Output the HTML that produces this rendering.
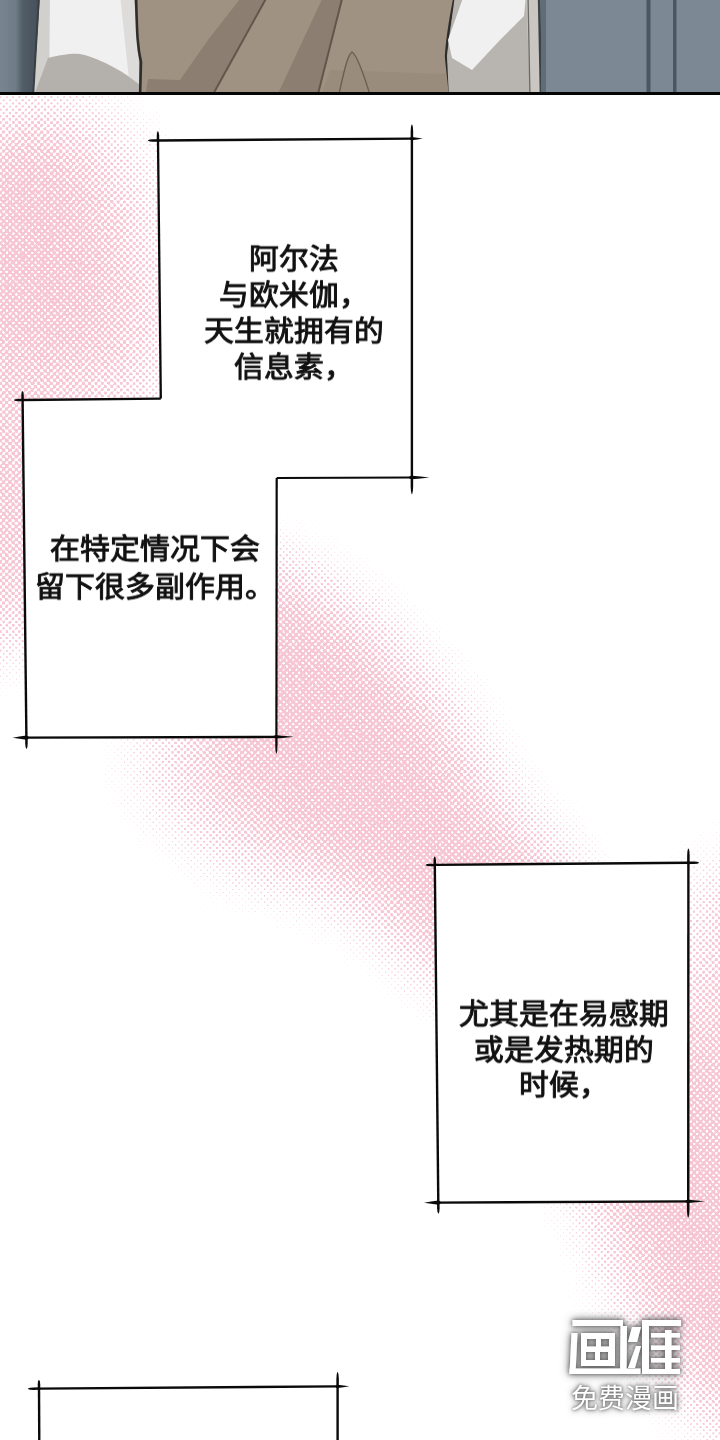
<!DOCTYPE html>
<html lang="zh-CN"><head><meta charset="utf-8">
<style>
html,body{margin:0;padding:0;background:#fff;}
body{width:720px;height:1440px;position:relative;overflow:hidden;font-family:"Liberation Sans",sans-serif;}
svg{position:absolute;left:0;top:0;}
.t{position:absolute;font-size:29.75px;font-weight:400;color:#111;white-space:nowrap;text-align:center;line-height:36px;-webkit-text-stroke:1.0px #111;}
.t span{display:block;transform:scaleY(0.95);will-change:transform;}
.wm{position:absolute;color:#fff;font-weight:500;white-space:nowrap;}
.ht{position:absolute;left:0;top:95px;width:720px;height:1345px;isolation:isolate;overflow:hidden;}
.ht .thr{position:absolute;left:0;top:-95px;width:720px;height:1440px;filter:contrast(12);background:#fff;isolation:isolate;overflow:hidden;}
.ht .dots{position:absolute;left:-400px;top:-400px;width:1520px;height:2240px;transform:rotate(45deg);background-image:radial-gradient(circle at center,#8c8c8c 0px,#949494 0.65px,#a4a4a4 1.3px,#b4b4b4 1.8px,#fff 2.4px);background-size:4.5px 4.5px;mix-blend-mode:multiply;}
.ht .col{position:absolute;left:0;top:0;width:720px;height:1345px;background:#f6c6d5;mix-blend-mode:screen;}
</style></head><body>
<svg width="720" height="1440" viewBox="0 0 720 1440">
<defs>
<filter id="b40" x="-50%" y="-50%" width="200%" height="200%"><feGaussianBlur stdDeviation="40"/></filter>
<filter id="b25" x="-50%" y="-50%" width="200%" height="200%"><feGaussianBlur stdDeviation="25"/></filter>
<filter id="b1"><feGaussianBlur stdDeviation="1.2"/></filter>
</defs>
<!-- top image -->
<defs>
<linearGradient id="lg1" x1="0" x2="1" y1="0" y2="0"><stop offset="0" stop-color="#7a8893"/><stop offset="0.45" stop-color="#6f7c87"/><stop offset="0.6" stop-color="#525d67"/><stop offset="1" stop-color="#444e58"/></linearGradient>
<filter id="soft" x="-5%" y="-5%" width="110%" height="110%"><feGaussianBlur stdDeviation="0.7"/></filter>
<clipPath id="cpt"><rect x="0" y="0" width="720" height="93"/></clipPath>
</defs>
<g filter="url(#soft)" clip-path="url(#cpt)">
<rect x="-5" y="-5" width="730" height="100" fill="#7b8893"/>
<polygon points="-5,-5 41,-5 34,98 -5,98" fill="url(#lg1)"/>
<polygon points="41,-5 138,-5 141,98 33,98" fill="#f0f0f0"/>
<polygon points="40,-5 50,-5 49,98 33,98" fill="#d2d0cd"/>
<polygon points="120,-5 137,-5 141,98 131,98" fill="#dddcda"/>
<path d="M48,58 C60,55 72,53 80,54 C95,57 108,64 122,72 C130,77 136,82 141,86 L141,98 L33,98 Z" fill="#b4b0ac"/>
<path d="M39,-5 L33,98" stroke="#3a3f44" stroke-width="2" fill="none"/>
<polygon points="134,-5 455,-5 447,40 446,56 450,98 139,98 139,62" fill="#a09282"/>
<polygon points="330,70 450,74 450,98 320,98" fill="#9a8c7c"/>
<path d="M136,-5 C137,30 137,45 141,62 L140,98" stroke="#2e2e2c" stroke-width="2.6" fill="none"/>
<polygon points="243,-5 268,-5 211,98 145,98 148,79 180,80 208,40" fill="#8c7e70"/>
<polygon points="324,-5 343,-5 317,98 276,98" fill="#8c7e70"/>
<path d="M268,-5 L211,98" stroke="#62564c" stroke-width="2" fill="none"/>
<path d="M343,-5 L317,98" stroke="#62564c" stroke-width="2" fill="none"/>
<path d="M338,98 C344,72 347,56 352,52 C357,55 364,75 371,98" stroke="#6a5e53" stroke-width="1.4" fill="#9a8c7c"/>
<path d="M455,-5 C450,20 447,40 446,56 C447,70 449,80 450,98" stroke="#2f2d2b" stroke-width="2.4" fill="none"/>
<polygon points="455,-5 528,-5 530,98 449,98 447,56" fill="#b8b4b0"/>
<polygon points="464,-5 526,-5 524,16 500,40 472,70 452,58 448,40" fill="#f0f0f0"/>
<polygon points="526,-5 540,-5 541,98 530,98" fill="#cac7c3"/>
<path d="M528,-5 L530,98" stroke="#6d6a67" stroke-width="1.3" fill="none"/>
<path d="M539,-5 L541,98" stroke="#3d4349" stroke-width="2.5" fill="none"/>
<rect x="541" y="-5" width="5" height="103" fill="#606c76"/>
<rect x="646.5" y="-5" width="4" height="103" fill="#4c5660"/>
<rect x="673" y="-5" width="3.5" height="103" fill="#4c5660"/>
</g>
<rect x="0" y="92" width="720" height="3" fill="#050505"/>
</svg>
<div class="ht"><div class="thr">
<svg width="720" height="1440" viewBox="0 0 720 1440"><defs><filter id="bht" x="-50%" y="-50%" width="200%" height="200%" color-interpolation-filters="sRGB"><feGaussianBlur stdDeviation="40"/><feComponentTransfer result="bl"><feFuncA type="gamma" exponent="0.44" amplitude="0.42" offset="0"/></feComponentTransfer><feTurbulence type="fractalNoise" baseFrequency="0.45" numOctaves="2" seed="3"/><feColorMatrix values="0 0 0 0 0  0 0 0 0 0  0 0 0 0 0  0 0 0 1 0" result="nz"/><feComposite in="bl" in2="nz" operator="arithmetic" k1="0.7" k2="0.65" k3="0" k4="0"/></filter></defs>
<g fill="#000"><g filter="url(#bht)"><ellipse cx="45" cy="290" rx="135" ry="190" opacity="0.4"/>
<ellipse cx="25" cy="250" rx="80" ry="125"/>
<ellipse cx="0" cy="520" rx="45" ry="130"/>
<ellipse cx="110" cy="330" rx="45" ry="70" opacity="0.5"/>
<ellipse cx="340" cy="745" rx="220" ry="95" transform="rotate(50 340 745)"/>
<ellipse cx="470" cy="890" rx="150" ry="75" transform="rotate(42 470 890)"/>
<ellipse cx="640" cy="1120" rx="220" ry="70" transform="rotate(55 640 1120)"/>
<ellipse cx="712" cy="1285" rx="170" ry="70" transform="rotate(62 712 1285)"/>
<ellipse cx="735" cy="1060" rx="45" ry="200" opacity="0.8"/>
<ellipse cx="230" cy="805" rx="110" ry="40" transform="rotate(38 230 805)" opacity="0.6"/></g></g></svg>
<div class="dots"></div></div><div class="col"></div></div>
<svg width="720" height="1440" viewBox="0 0 720 1440">

<polygon fill="#fff" points="158.0,140.5 411.9,138.6 411.9,477.5 276.7,478.0 276.4,736.9 26.4,737.6 22.6,400.0 160.8,398.6"/>
<polygon fill="#fff" points="434.8,864.9 688.4,862.8 688.2,1201.4 438.3,1202.6"/>
<polygon fill="#fff" points="39.0,1388.6 337.6,1386.4 337.6,1445 39.3,1445"/>

<g fill="#0a0a0a">
<polygon points="158.01,141.70 411.91,139.80 411.89,137.40 157.99,139.30"/>
<polygon points="159.03,141.69 158.01,141.76 152.91,141.80 149.85,141.52 148.52,141.05 147.80,140.58 148.51,140.09 149.83,139.60 152.89,139.28 157.99,139.24 159.01,139.29"/>
<polygon points="410.27,139.81 411.91,140.16 417.36,139.42 422.80,138.52 417.34,137.70 411.89,137.04 410.26,137.41"/>
<polygon points="410.70,138.60 410.70,477.50 413.10,477.50 413.10,138.60"/>
<polygon points="410.70,140.04 410.64,138.60 410.64,131.40 410.94,127.08 411.42,125.21 411.90,124.20 412.38,125.21 412.86,127.08 413.16,131.40 413.16,138.60 413.10,140.04"/>
<polygon points="410.70,475.81 410.64,477.50 410.64,485.95 410.94,491.02 411.42,493.22 411.90,494.40 412.38,493.22 412.86,491.02 413.16,485.95 413.16,477.50 413.10,475.81"/>
<polygon points="411.90,476.40 276.70,476.90 276.70,479.10 411.90,478.60"/>
<polygon points="409.27,476.41 411.89,475.74 420.65,476.50 429.40,477.44 420.65,478.44 411.91,479.26 409.28,478.61"/>
<polygon points="275.60,478.00 275.30,736.90 277.50,736.90 277.80,478.00"/>
<polygon points="275.30,735.20 275.25,736.90 275.24,745.40 275.50,750.50 275.94,752.71 276.38,753.90 276.82,752.71 277.26,750.50 277.55,745.40 277.55,736.90 277.50,735.20"/>
<polygon points="276.40,735.70 26.40,736.40 26.40,738.80 276.40,738.10"/>
<polygon points="273.73,735.71 276.40,735.22 285.30,735.95 294.20,736.85 285.30,737.80 276.40,738.58 273.73,738.11"/>
<polygon points="28.48,736.39 26.39,735.56 19.45,736.50 12.50,737.64 19.45,738.74 26.41,739.64 28.49,738.79"/>
<polygon points="27.60,737.59 23.80,399.99 21.40,400.01 25.20,737.61"/>
<polygon points="27.59,736.45 27.66,737.59 27.72,743.29 27.46,746.71 27.00,748.20 26.53,749.00 26.04,748.21 25.54,746.73 25.20,743.31 25.14,737.61 25.19,736.47"/>
<polygon points="23.81,400.89 23.86,399.99 23.81,395.49 23.48,392.79 22.99,391.63 22.50,391.00 22.03,391.64 21.56,392.81 21.29,395.51 21.34,400.01 21.41,400.91"/>
<polygon points="22.61,401.15 160.81,399.75 160.79,397.45 22.59,398.85"/>
<polygon points="23.48,401.14 22.61,401.21 18.26,401.25 15.65,400.99 14.51,400.54 13.90,400.09 14.50,399.62 15.63,399.15 18.24,398.84 22.59,398.79 23.46,398.84"/>
<polygon points="161.95,398.59 159.15,140.49 156.85,140.51 159.65,398.61"/>
<polygon points="159.16,141.44 159.21,140.49 159.16,135.74 158.84,132.89 158.36,131.66 157.90,131.00 157.44,131.67 157.00,132.91 156.74,135.76 156.79,140.51 156.86,141.46"/>
<polygon points="434.81,866.10 688.41,864.00 688.39,861.60 434.79,863.70"/>
<polygon points="435.75,866.09 434.81,866.16 430.11,866.20 427.29,865.92 426.06,865.45 425.40,864.98 426.05,864.49 427.27,864.00 430.09,863.68 434.79,863.64 435.73,863.69"/>
<polygon points="687.33,864.01 688.41,864.06 693.81,864.02 697.05,863.69 698.45,863.20 699.20,862.71 698.44,862.24 697.03,861.77 693.79,861.50 688.39,861.54 687.31,861.61"/>
<polygon points="687.20,862.80 687.00,1201.40 689.40,1201.40 689.60,862.80"/>
<polygon points="687.20,864.25 687.14,862.80 687.14,855.55 687.45,851.20 687.93,849.31 688.41,848.30 688.89,849.32 689.37,851.20 689.66,855.55 689.66,862.80 689.60,864.25"/>
<polygon points="687.00,1199.76 686.94,1201.40 686.94,1209.60 687.23,1214.52 687.71,1216.65 688.19,1217.80 688.67,1216.65 689.15,1214.52 689.46,1209.60 689.46,1201.40 689.40,1199.76"/>
<polygon points="688.19,1200.20 438.29,1201.40 438.31,1203.80 688.21,1202.60"/>
<polygon points="685.67,1200.21 688.19,1199.84 696.60,1200.50 705.00,1201.32 696.60,1202.22 688.21,1202.96 685.69,1202.61"/>
<polygon points="440.44,1201.39 438.29,1200.56 431.14,1201.51 424.00,1202.67 431.16,1203.76 438.31,1204.64 440.45,1203.79"/>
<polygon points="439.50,1202.59 436.00,864.89 433.60,864.91 437.10,1202.61"/>
<polygon points="439.49,1201.48 439.56,1202.59 439.62,1208.14 439.35,1211.47 438.89,1212.92 438.42,1213.70 437.93,1212.93 437.43,1211.49 437.10,1208.16 437.04,1202.61 437.09,1201.50"/>
<polygon points="436.01,865.75 436.06,864.89 436.02,860.59 435.69,858.01 435.20,856.90 434.71,856.30 434.24,856.91 433.77,858.03 433.50,860.61 433.54,864.91 433.61,865.77"/>
<polygon points="39.01,1389.80 337.61,1387.60 337.59,1385.20 38.99,1387.40"/>
<polygon points="40.13,1389.79 39.01,1389.86 33.41,1389.90 30.05,1389.63 28.59,1389.16 27.80,1388.68 28.58,1388.20 30.03,1387.71 33.39,1387.38 38.99,1387.34 40.11,1387.39"/>
<polygon points="335.84,1387.61 337.61,1387.96 343.51,1387.21 349.40,1386.31 343.49,1385.50 337.59,1384.84 335.82,1385.21"/>
<polygon points="336.40,1386.40 336.40,1445.00 338.80,1445.00 338.80,1386.40"/>
<polygon points="336.40,1387.86 336.34,1386.40 336.34,1379.10 336.64,1374.72 337.12,1372.82 337.60,1371.80 338.08,1372.82 338.56,1374.72 338.86,1379.10 338.86,1386.40 338.80,1387.86"/>
<polygon points="40.50,1444.99 40.20,1388.59 37.80,1388.61 38.10,1445.01"/>
<polygon points="40.20,1389.47 40.26,1388.59 40.24,1384.19 39.92,1381.55 39.44,1380.41 38.95,1379.80 38.48,1380.42 38.00,1381.57 37.72,1384.21 37.74,1388.61 37.80,1389.49"/>
</g>
</svg>
<div class="t" style="left:194px;top:241px;width:200px;"><span>阿尔法</span><span>与欧米伽，</span><span>天生就拥有的</span><span>信息素，</span></div>
<div class="t" style="left:34.8px;top:530px;width:240px;line-height:37.5px;font-size:29.9px;"><span>在特定情况下会</span><span>留下很多副作用。</span></div>
<div class="t" style="left:444px;top:996px;width:240px;line-height:35.5px;"><span>尤其是在易感期</span><span>或是发热期的</span><span>时候，</span></div>
<svg width="720" height="1440" viewBox="0 0 720 1440" style="position:absolute;left:0;top:0">
<defs><filter id="wsh" x="-30%" y="-30%" width="160%" height="160%">
<feGaussianBlur in="SourceAlpha" stdDeviation="3"/><feOffset dx="0" dy="1"/>
<feComponentTransfer><feFuncA type="linear" slope="0.55"/></feComponentTransfer>
<feFlood flood-color="#5a5a5a"/><feComposite operator="in" in2="SourceAlpha"/>
</filter>
<filter id="ws2" x="-30%" y="-30%" width="160%" height="160%">
<feGaussianBlur in="SourceAlpha" stdDeviation="2" result="b"/>
<feFlood flood-color="#5a5a5a" flood-opacity="1"/><feComposite in2="b" operator="in" result="s"/>
<feGaussianBlur in="SourceAlpha" stdDeviation="5" result="b2"/>
<feFlood flood-color="#606060" flood-opacity="1"/><feComposite in2="b2" operator="in" result="s2"/>
<feMerge><feMergeNode in="s2"/><feMergeNode in="s"/><feMergeNode in="SourceGraphic"/></feMerge>
</filter></defs>
<g filter="url(#ws2)" fill="#fff">
<polygon points="572.5,1320 623,1320 623,1326 572.5,1326"/>
<polygon points="571.5,1333 577.5,1333 575.5,1374 569.5,1374"/>
<rect x="569.5" y="1368.5" width="71" height="5.5"/>
<polygon points="620.5,1326 627,1326 626.5,1374 620,1374"/>
<path d="M581,1333 H615 V1366 H581 Z M587,1339 V1346.5 H596 V1339 Z M601,1339 V1346.5 H609 V1339 Z M586,1352 V1360 H595 V1352 Z M600,1352 V1360 H608 V1352 Z" fill-rule="evenodd"/>
<polygon points="632,1327 641,1327 637,1342 628,1342"/>
<polygon points="636,1346 641,1346 635,1368 628,1368"/>
<rect x="642" y="1320" width="39" height="6"/>
<rect x="642" y="1320" width="7" height="54"/>
<rect x="651" y="1333" width="29" height="4.5"/>
<rect x="651" y="1345.5" width="29" height="4.5"/>
<rect x="651" y="1358" width="29" height="4.5"/>
<rect x="649" y="1369" width="31" height="5"/>
<rect x="665" y="1330" width="6.5" height="40"/>
</g>
</svg>
<div class="wm" style="left:571px;top:1384px;font-size:27px;line-height:30px;text-shadow:0 0 3px #666,0 0 5px #777,0 0 8px #999;">免费漫画</div>
</body></html>
